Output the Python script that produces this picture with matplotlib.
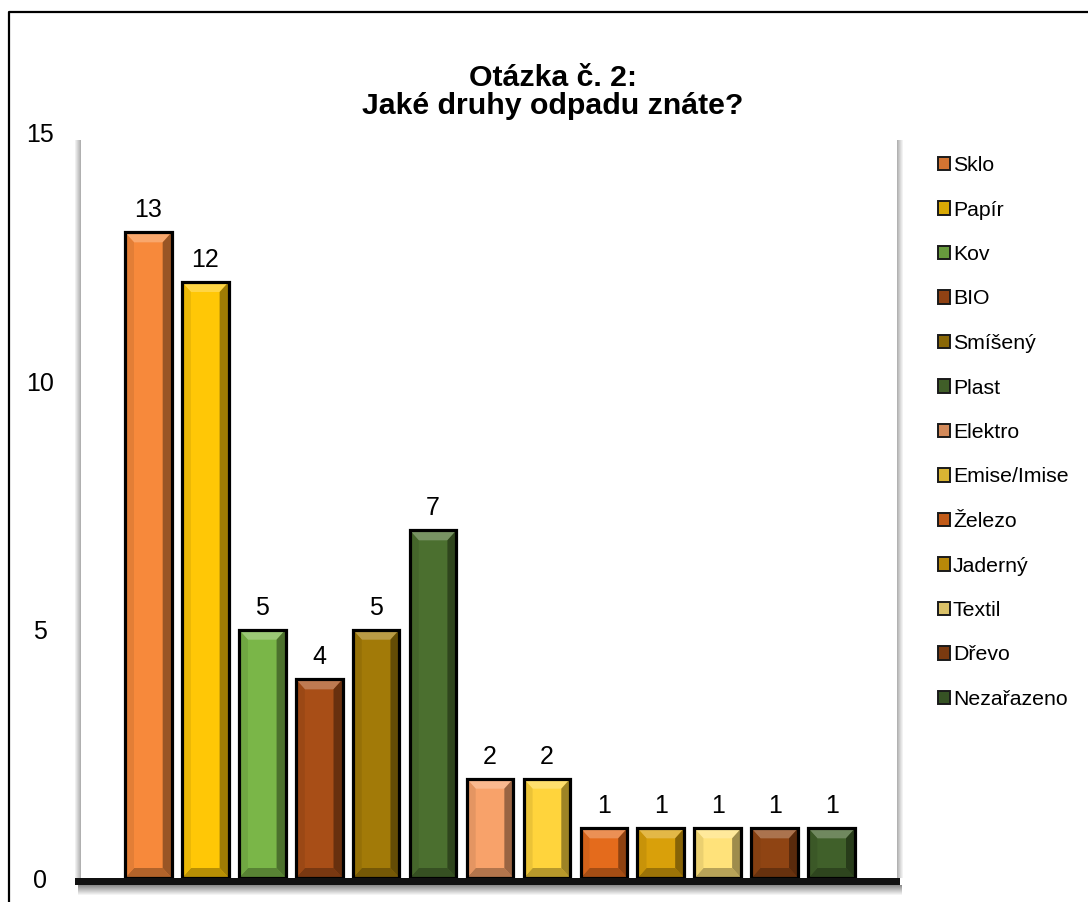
import matplotlib
matplotlib.use("Agg")
import matplotlib.pyplot as plt
import matplotlib.patches as patches
from matplotlib.lines import Line2D
from matplotlib.colors import to_rgb
import numpy as np

categories = ["Sklo", "Papír", "Kov", "BIO", "Smíšený", "Plast", "Elektro",
              "Emise/Imise", "Železo", "Jaderný", "Textil", "Dřevo", "Nezařazeno"]
values = [13, 12, 5, 4, 5, 7, 2, 2, 1, 1, 1, 1, 1]
colors = ["#F7893B", "#FFC706", "#7AB648", "#A84E17", "#A27A08", "#4B6F2F", "#F8A26A",
          "#FFD43C", "#E46B1C", "#D9A00A", "#FFE27A", "#8F4413", "#40602A"]
yticks = [0, 5, 10, 15]
title = "Otázka č. 2:\nJaké druhy odpadu znáte?"

plt.rcParams['font.family'] = ['Liberation Sans', 'DejaVu Sans']

W, H = 1088, 902
fig = plt.figure(figsize=(W / 100, H / 100), dpi=100)
ax_l, ax_r, ax_t, ax_b = 80, 900, 133, 878   # plot area in image pixels
ax = fig.add_axes([ax_l / W, 1 - ax_b / H, (ax_r - ax_l) / W, (ax_b - ax_t) / H])
xlim = (-1.2, 13.2)
ax.set_xlim(*xlim)
ax.set_ylim(0, 15)


def shade(c, f):
    r = np.array(to_rgb(c))
    if f < 1:
        r = r * f
    else:
        r = r + (1 - r) * (f - 1)
    return tuple(np.clip(r, 0, 1))


# data units per pixel, for the bevel edges
px_x = (xlim[1] - xlim[0]) / (ax_r - ax_l)
px_y = 15 / (ax_b - ax_t)
w = 0.82
bx, by = 9 * px_x, 10 * px_y

bars = ax.bar(range(len(values)), values, width=w, color=colors, edgecolor="none", zorder=3)
for i, (v, c) in enumerate(zip(values, colors)):
    x0, x1 = i - w / 2, i + w / 2
    bev = [
        ([(x0, v), (x1, v), (x1 - bx, v - by), (x0 + bx, v - by)], shade(c, 1.25)),   # top
        ([(x0, 0), (x1, 0), (x1 - bx, by), (x0 + bx, by)], shade(c, 0.72)),           # bottom
        ([(x1, v), (x1, 0), (x1 - bx, by), (x1 - bx, v - by)], shade(c, 0.62)),       # right
        ([(x0, v), (x0, 0), (x0 + bx, by), (x0 + bx, v - by)], shade(c, 0.92)),       # left
    ]
    for pts, fc in bev:
        ax.add_patch(patches.Polygon(pts, closed=True, facecolor=fc, edgecolor="none", zorder=4))
    ax.add_patch(patches.Rectangle((x0, 0), w, v, fill=False, edgecolor="black",
                                   linewidth=2.3, zorder=5))
    ax.text(i, v + 0.2, str(v), ha="center", va="bottom", fontsize=18, zorder=6)

ax.set_xticks([])
ax.set_yticks(yticks)
ax.set_yticklabels([str(t) for t in yticks], fontsize=18)
for lab in ax.get_yticklabels():
    lab.set_horizontalalignment("center")
ax.tick_params(axis="y", length=0, pad=29)
for s in ax.spines.values():
    s.set_visible(False)

# walls and floor shading (pixel coordinates of the image)
def img_rect(x, y, w_, h_, color, alpha=1.0, z=1):
    fig.patches.append(patches.Rectangle((x, H - y - h_), w_, h_, transform=None,
                                         facecolor=color, edgecolor="none", alpha=alpha, zorder=z))

for k in range(6):
    img_rect(ax_l - 5 + k, 140, 1, ax_b - 140, "#000000", alpha=0.06 + 0.05 * k, z=0)
    img_rect(ax_r - 3 + k, 140, 1, ax_b - 140, "#000000", alpha=0.3 - 0.05 * k, z=0)
img_rect(ax_l - 5, ax_b, ax_r - ax_l + 5, 7, "#111111", z=10)
for k in range(10):
    img_rect(ax_l - 2, ax_b + 7 + k, ax_r - ax_l + 4, 1, "#000000", alpha=0.45 - 0.045 * k, z=10)

# outer frame (only left and top visible)
fig.lines.append(Line2D([8.5, 8.5, W + 5], [-5, H - 11.5, H - 11.5], transform=None,
                        color="black", linewidth=1.6))

fig.suptitle(title, x=0.508, y=1 - 64 / H, va="top", fontsize=21.8, fontweight="bold",
             linespacing=0.98)

handles = [patches.Patch(facecolor=shade(c, 0.85), edgecolor="#1a1a1a", linewidth=1.4, label=n)
           for n, c in zip(categories, colors)]
ax.legend(handles=handles, loc="upper left", bbox_to_anchor=(938 / W, 1 - 156 / H),
          bbox_transform=fig.transFigure, frameon=False, fontsize=15.3,
          handlelength=0.58, handleheight=0.58, handletextpad=0.12, labelspacing=1.2,
          borderpad=0, borderaxespad=0)

fig.savefig("out.png", dpi=100)
